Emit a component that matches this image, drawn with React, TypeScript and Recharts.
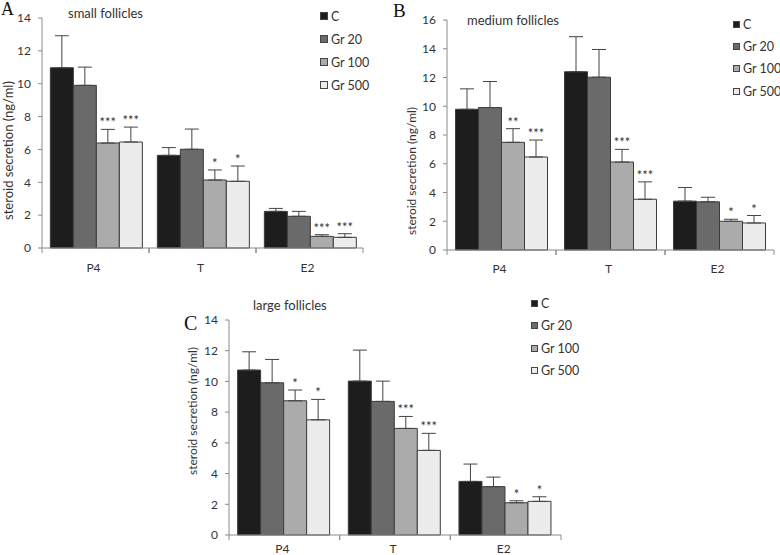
import React from "react";
import { BarChart, Bar, XAxis, YAxis, ErrorBar, LabelList, Legend } from "recharts";

const hormones = ["P4", "T", "E2"];
const groups = ["C", "Gr 20", "Gr 100", "Gr 500"];
const groupColors = ["#1d1d1d", "#6a6a6a", "#ababab", "#ececec"];

// rows: C, Gr 20, Gr 100, Gr 500 / columns: P4, T, E2
const smallMeans = [
  [10.97, 5.64, 2.23],
  [9.9, 6.01, 1.93],
  [6.39, 4.14, 0.71],
  [6.45, 4.06, 0.65],
];
const smallErrors = [
  [1.95, 0.47, 0.18],
  [1.11, 1.23, 0.3],
  [0.83, 0.61, 0.1],
  [0.91, 0.93, 0.22],
];
const smallStars = [
  ["", "", ""],
  ["", "", ""],
  ["***", "*", "***"],
  ["***", "*", "***"],
];

const mediumMeans = [
  [9.79, 12.4, 3.4],
  [9.91, 12.02, 3.35],
  [7.49, 6.12, 2.0],
  [6.47, 3.53, 1.88],
];
const mediumErrors = [
  [1.42, 2.44, 0.95],
  [1.81, 1.93, 0.32],
  [0.95, 0.88, 0.14],
  [1.18, 1.21, 0.52],
];
const mediumStars = [
  ["", "", ""],
  ["", "", ""],
  ["**", "***", "*"],
  ["***", "***", "*"],
];

const largeMeans = [
  [10.74, 10.02, 3.49],
  [9.91, 8.7, 3.15],
  [8.74, 6.94, 2.1],
  [7.5, 5.51, 2.19],
];
const largeErrors = [
  [1.19, 2.02, 1.13],
  [1.52, 1.32, 0.62],
  [0.7, 0.78, 0.13],
  [1.33, 1.11, 0.3],
];
const largeStars = [
  ["", "", ""],
  ["", "", ""],
  ["*", "***", "*"],
  ["*", "***", "*"],
];

const ticks14 = [0, 2, 4, 6, 8, 10, 12, 14];
const ticks16 = [0, 2, 4, 6, 8, 10, 12, 14, 16];

const FONT = "Lato, 'Open Sans', sans-serif";
const TEXT = "#333333";
const AXIS = "#8a8a8a";

function buildRows(means: number[][], errors: number[][], stars: string[][]) {
  return hormones.map((h, i) => {
    const row: any = { hormone: h };
    groups.forEach((_, j) => {
      row["m" + j] = means[j][i];
      row["e" + j] = [0, errors[j][i]];
      row["s" + j] = stars[j][i];
    });
    return row;
  });
}

const starLabel = (rows: any[], j: number) => (p: any) => {
  const row = rows[p.index];
  if (!row || !row["s" + j]) return null;
  const mean = row["m" + j];
  const err = row["e" + j][1];
  const top = Number(p.y) - err * (Number(p.height) / mean);
  return (
    <text x={Number(p.x) + Number(p.width) / 2} y={top - 2} textAnchor="middle" fontSize={13} fill={TEXT} fontFamily={FONT}>
      {row["s" + j]}
    </text>
  );
};

function CatTick(props: any) {
  const { x, y, payload, half, dy } = props;
  return (
    <g>
      <line x1={x - half} x2={x - half} y1={y} y2={y + 5} stroke={AXIS} />
      <line x1={x + half} x2={x + half} y1={y} y2={y + 5} stroke={AXIS} />
      <text x={x - 2} y={y + dy} textAnchor="middle" dominantBaseline="central" fontSize={12} fill={TEXT} fontFamily={FONT}>
        {payload.value}
      </text>
    </g>
  );
}

function LegendBox({ square, rowH }: { square: number; rowH: number }) {
  return (
    <div style={{ fontFamily: FONT, fontSize: 12.5, color: TEXT }}>
      {groups.map((g, j) => (
        <div key={g} style={{ height: rowH, display: "flex", alignItems: "center" }}>
          <span
            style={{
              width: square,
              height: square,
              background: groupColors[j],
              border: "1px solid #444",
              boxSizing: "border-box",
              marginRight: 3,
              display: "inline-block",
            }}
          />
          <span style={{ whiteSpace: "nowrap" }}>{g}</span>
        </div>
      ))}
    </div>
  );
}

type PanelProps = {
  rows: any[];
  ticks: number[];
  left: number;
  top: number;
  width: number;
  height: number;
  margin: { top: number; right: number; bottom: number; left: number };
  xHeight: number;
  xDy: number;
  legend: { left: number; top: number; square: number; rowH: number };
};

function Panel({ rows, ticks, left, top, width, height, margin, xHeight, xDy, legend }: PanelProps) {
  const plotW = width - margin.left - margin.right - 40;
  const half = plotW / hormones.length / 2;
  return (
    <div style={{ position: "absolute", left, top }}>
      <BarChart width={width} height={height} data={rows} margin={margin} barCategoryGap="7.8%" barGap={0}>
        <XAxis
          dataKey="hormone"
          height={xHeight}
          stroke={AXIS}
          tickLine={false}
          tickSize={0}
          tickMargin={0}
          interval={0}
          tick={<CatTick half={half} dy={xDy} />}
        />
        <YAxis
          width={40}
          domain={[ticks[0], ticks[ticks.length - 1]]}
          ticks={ticks}
          interval={0}
          stroke={AXIS}
          tickSize={4}
          tickMargin={7}
          tick={{ fontSize: 12, fill: TEXT, fontFamily: FONT }}
        />
        <Legend
          layout="vertical"
          align="center"
          verticalAlign="middle"
          wrapperStyle={{ left: legend.left, top: legend.top, width: 70, height: legend.rowH * 4 }}
          content={() => <LegendBox square={legend.square} rowH={legend.rowH} />}
        />
        {groups.map((g, j) => (
          <Bar key={g} dataKey={"m" + j} name={g} fill={groupColors[j]} stroke="#3c3c3c" strokeWidth={1} isAnimationActive={false}>
            <ErrorBar dataKey={"e" + j} width={7} stroke="#444" strokeWidth={1} direction="y" isAnimationActive={false} />
            <LabelList content={starLabel(rows, j)} />
          </Bar>
        ))}
      </BarChart>
    </div>
  );
}

function Txt({ x, y, size, children, serif }: any) {
  return (
    <div
      style={{
        position: "absolute",
        left: x,
        top: y,
        fontSize: size,
        lineHeight: size + "px",
        fontFamily: serif ? "'Liberation Serif', 'DejaVu Serif', serif" : FONT,
        color: serif ? "#111" : TEXT,
        whiteSpace: "nowrap",
      }}
    >
      {children}
    </div>
  );
}

function YLabel({ cx, cy, size }: { cx: number; cy: number; size: number }) {
  const w = 200;
  return (
    <div
      style={{
        position: "absolute",
        left: cx - w / 2,
        top: cy - size / 2,
        width: w,
        height: size,
        lineHeight: size + "px",
        fontSize: size,
        fontFamily: FONT,
        color: TEXT,
        textAlign: "center",
        transform: "rotate(-90deg)",
        whiteSpace: "nowrap",
      }}
    >
      steroid secretion (ng/ml)
    </div>
  );
}

export default function App() {
  const small = buildRows(smallMeans, smallErrors, smallStars);
  const medium = buildRows(mediumMeans, mediumErrors, mediumStars);
  const large = buildRows(largeMeans, largeErrors, largeStars);
  return (
    <div style={{ position: "absolute", left: 0, top: 0, width: 780, height: 555, background: "#fff", overflow: "hidden" }}>
      <Panel
        rows={small}
        ticks={ticks14}
        left={0}
        top={0}
        width={390}
        height={280}
        margin={{ top: 18, right: 27, bottom: 2, left: 2 }}
        xHeight={30}
        xDy={19}
        legend={{ left: 320, top: 4.5, square: 8, rowH: 23 }}
      />
      <Panel
        rows={medium}
        ticks={ticks16}
        left={390}
        top={0}
        width={390}
        height={280}
        margin={{ top: 20, right: 6, bottom: 0, left: 17 }}
        xHeight={30}
        xDy={18.5}
        legend={{ left: 343, top: 13, square: 7, rowH: 22.3 }}
      />
      <Panel
        rows={large}
        ticks={ticks14}
        left={170}
        top={290}
        width={420}
        height={265}
        margin={{ top: 30, right: 29, bottom: 1, left: 19 }}
        xHeight={19}
        xDy={13}
        legend={{ left: 361, top: 2, square: 7, rowH: 22.5 }}
      />

      <Txt x={1} y={0} size={18} serif>A</Txt>
      <Txt x={393} y={1} size={19} serif>B</Txt>
      <Txt x={184} y={313} size={20} serif>C</Txt>

      <Txt x={68} y={7} size={13}>small follicles</Txt>
      <Txt x={467} y={14} size={13}>medium follicles</Txt>
      <Txt x={253} y={299} size={13}>large follicles</Txt>

      <YLabel cx={8} cy={150} size={13} />
      <YLabel cx={412} cy={171} size={12} />
      <YLabel cx={193} cy={411} size={12} />
    </div>
  );
}
